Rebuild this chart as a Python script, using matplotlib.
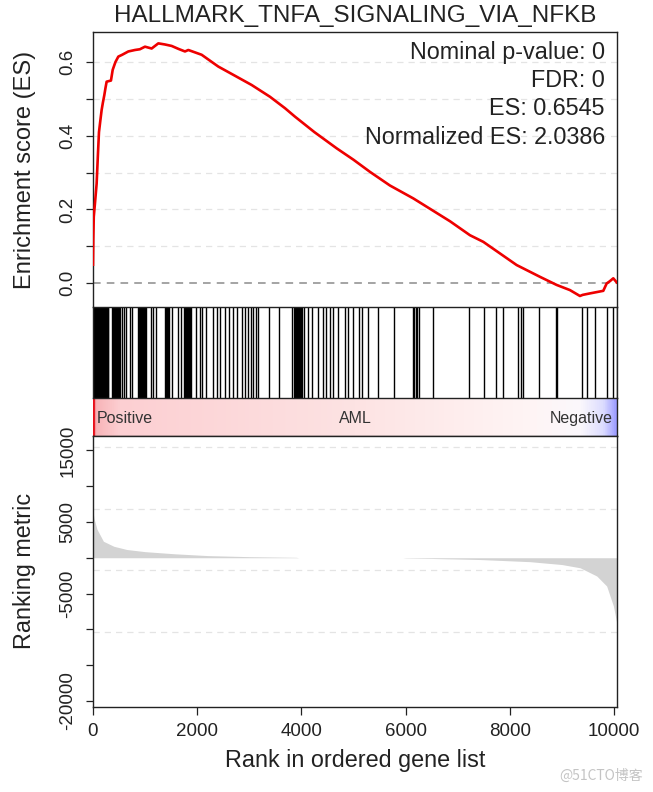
import matplotlib
matplotlib.use("Agg")
import matplotlib.pyplot as plt
import numpy as np
from matplotlib.colors import LinearSegmentedColormap

plt.rcParams["font.family"] = ["Liberation Sans", "DejaVu Sans"]

# ---- data ------------------------------------------------------------------
gene_count = 10065

es_rank = [0, 6, 15, 40, 70, 95, 115, 140, 166, 190, 217, 240, 262, 345, 378,
           430, 486, 560, 678, 806, 900, 998, 1126, 1254, 1380, 1510, 1640,
           1766, 1830, 2086, 2405, 2700, 3045, 3397, 3685, 3877, 4250, 4677,
           5000, 5317, 5700, 6148, 6852, 7236, 7492, 8132, 8580, 8900, 9155,
           9347, 9400, 9539, 9795, 9860, 9920, 9987, 10052]
es_score = [0.05, 0.12, 0.18, 0.22, 0.27, 0.35, 0.41, 0.44, 0.47, 0.49, 0.51,
            0.53, 0.547, 0.55, 0.579, 0.60, 0.615, 0.62, 0.629, 0.633, 0.635,
            0.642, 0.637, 0.651, 0.648, 0.644, 0.636, 0.629, 0.633, 0.62,
            0.588, 0.565, 0.538, 0.506, 0.475, 0.452, 0.41, 0.366, 0.335,
            0.302, 0.265, 0.230, 0.168, 0.130, 0.112, 0.049, 0.017, -0.005,
            -0.019, -0.035, -0.032, -0.028, -0.021, -0.001, 0.005, 0.013, 0.002]

hit_ranks = [
    2, 12, 22, 33, 45, 55, 66, 78, 90, 101, 113, 125, 138, 150, 163, 175, 188,
    200, 213, 226, 240, 253, 267, 280, 290,
    360, 375, 392, 408, 425, 441, 458, 474, 490, 505, 518,
    550, 595, 640, 710, 742,
    872, 888, 905, 921, 938, 955, 972, 988, 1003, 1017,
    1107, 1145, 1210,
    1384, 1400, 1416, 1432, 1447, 1459,
    1523, 1638, 1689,
    1755, 1772, 1790, 1808, 1826, 1844, 1862, 1880,
    1977, 2054, 2086, 2162, 2310, 2386, 2438, 2534, 2610, 2694, 2758, 2854,
    2918, 2982, 3026, 3077, 3122, 3173, 3378, 3570, 3813,
    3868, 3885, 3903, 3920, 3938, 3955, 3972, 3990, 4005,
    4056, 4120, 4210, 4325, 4421, 4466, 4549, 4600, 4709, 4840, 4900, 4996,
    5111, 5157, 5284, 5464, 5783, 6148, 6170, 6192, 6213, 6257, 6532, 7217,
    7505, 7730, 7876, 8163, 8209, 8259, 8566, 8880, 8900, 9380, 9476, 9635,
    9860, 9987, 10052,
]

metric_rank = [0, 20, 76, 200, 400, 650, 1000, 1570, 2200, 3000, 3900, 3950,
               5950, 6000, 6500, 7430, 8390, 9000, 9350, 9670, 9860, 9990, 10065]
metric_value = [6500, 5500, 4000, 2300, 1600, 1150, 850, 550, 300, 150, 60, 0,
                0, -40, -100, -250, -550, -950, -1400, -2550, -3950, -6750, -9550]

metric_grid = [15500, 6750, -1750, -10300]

es_stats = ["Nominal p-value: 0", "FDR: 0", "ES: 0.6545", "Normalized ES: 2.0386"]
title = "HALLMARK_TNFA_SIGNALING_VIA_NFKB"

# ---- layout ------------------------------------------------------------------
fig = plt.figure(figsize=(6.53, 7.92), dpi=100)
left, width = 0.1424, 0.803
ax_es = fig.add_axes([left, 0.6128, width, 0.3464])
ax_hit = fig.add_axes([left, 0.4975, width, 0.1153])
ax_bar = fig.add_axes([left, 0.4495, width, 0.0480])
ax_rm = fig.add_axes([left, 0.1077, width, 0.3418])

for ax in (ax_es, ax_hit, ax_bar, ax_rm):
    ax.set_xlim(0, gene_count)
    for sp in ax.spines.values():
        sp.set_color("#222222")
        sp.set_linewidth(1.0)

# ES curve
ax_es.set_ylim(-0.064, 0.681)
for g in [0.1, 0.2, 0.3, 0.4, 0.5, 0.6]:
    ax_es.axhline(g, color="#e4e4e4", lw=0.9, ls=(0, (5, 4)), zorder=0)
ax_es.axhline(0, color="#8c8c8c", lw=1.1, ls=(0, (5, 4)), zorder=1)
ax_es.plot(es_rank, es_score, color="#ee0000", lw=1.9, zorder=3)
ax_es.set_xticks([])
ax_es.set_yticks([0.0, 0.1, 0.2, 0.3, 0.4, 0.5, 0.6])
ax_es.set_yticklabels(["0.0", "", "0.2", "", "0.4", "", "0.6"],
                      rotation=90, va="center")
ax_es.tick_params(axis="y", length=5, width=0.9, pad=7, labelsize=13.5,
                  colors="#222222")
ax_es.set_ylabel("Enrichment score (ES)", fontsize=17, color="#222222")
ax_es.yaxis.set_label_coords(-0.108, 0.5)
ax_es.spines["bottom"].set_visible(False)
for i, s in enumerate(es_stats):
    ax_es.text(0.976, 0.927 - i * 0.103, s, transform=ax_es.transAxes,
               ha="right", va="center", fontsize=16.8, color="#222222")

# hits
ax_hit.vlines(hit_ranks, 0, 1, color="black", lw=1.0)
ax_hit.set_ylim(0, 1)
ax_hit.set_xticks([])
ax_hit.set_yticks([])
ax_hit.spines["bottom"].set_visible(False)

# colour bar
stops = [(0.0, "#e8101a"), (0.004, "#f8b4b8"), (0.05, "#fccfd2"),
         (0.5, "#fde3e3"), (0.82, "#fff4f4"), (0.93, "#fbf8fc"),
         (0.975, "#dcdcff"), (1.0, "#9898ff")]
cmap = LinearSegmentedColormap.from_list("rank", stops)
ax_bar.imshow(np.linspace(0, 1, 1000)[None, :], aspect="auto", cmap=cmap,
              extent=[0, gene_count, 0, 1], interpolation="bilinear")
ax_bar.set_xlim(0, gene_count)
ax_bar.set_ylim(0, 1)
ax_bar.set_xticks([])
ax_bar.set_yticks([])
ax_bar.spines["left"].set_visible(False)
ax_bar.text(0.008, 0.47, "Positive", transform=ax_bar.transAxes, ha="left",
            va="center", fontsize=11.5, color="#333333")
ax_bar.text(0.5, 0.47, "AML", transform=ax_bar.transAxes, ha="center",
            va="center", fontsize=11.5, color="#333333")
ax_bar.text(0.992, 0.47, "Negative", transform=ax_bar.transAxes, ha="right",
            va="center", fontsize=11.5, color="#333333")

# ranking metric
ax_rm.set_ylim(-20800, 17000)
for g in metric_grid:
    ax_rm.axhline(g, color="#e4e4e4", lw=0.9, ls=(0, (5, 4)), zorder=0)
ax_rm.fill_between(metric_rank, 0, metric_value, color="#d3d3d3", lw=0,
                   zorder=2)
ax_rm.set_yticks([-20000, -15000, -10000, -5000, 0, 5000, 10000, 15000])
ax_rm.set_yticklabels(["-20000", "", "", "-5000", "", "5000", "", "15000"],
                      rotation=90, va="center")
ax_rm.set_xticks([0, 2000, 4000, 6000, 8000, 10000])
ax_rm.tick_params(axis="y", length=5, width=0.9, pad=7, labelsize=13.5,
                  colors="#222222")
ax_rm.tick_params(axis="x", length=6, width=0.9, pad=6, labelsize=13.5,
                  colors="#222222")
ax_rm.set_ylabel("Ranking metric", fontsize=16.8, color="#222222")
ax_rm.yaxis.set_label_coords(-0.108, 0.5)
ax_rm.set_xlabel("Rank in ordered gene list", fontsize=16.8, color="#222222",
                 labelpad=6)

fig.text(355 / 653, 1 - 16 / 792, title, ha="center", va="center",
         fontsize=17.5, color="#222222")
fig.text(643 / 653, 1 - 776 / 792, "@51CTO博客", ha="right", va="center",
         fontsize=10, color="#c4c4c4",
         family=["Noto Sans CJK SC", "DejaVu Sans"])

fig.savefig("out.png", dpi=100)
